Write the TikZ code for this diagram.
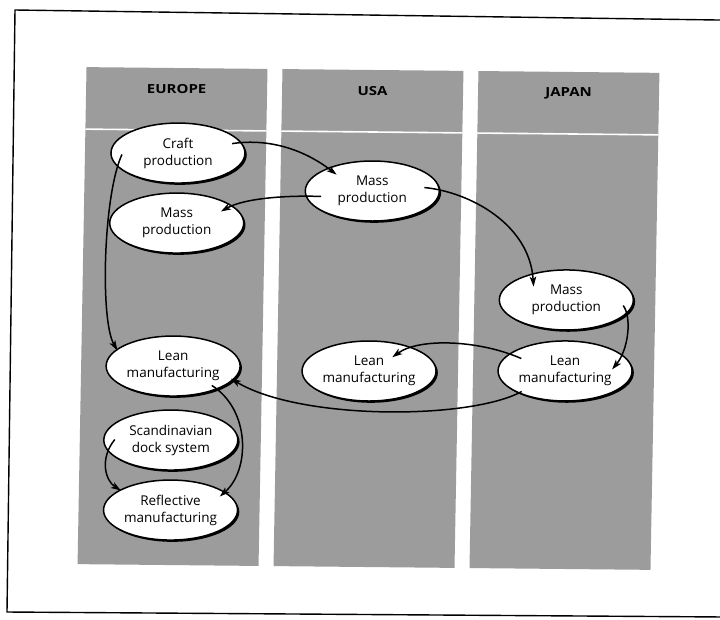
\documentclass[tikz,border=0pt]{standalone}
\usepackage{fontspec}
\setmainfont{Open Sans}
\usetikzlibrary{shapes.geometric,arrows.meta,shadows,calc}
\definecolor{colgray}{gray}{0.61}
\begin{document}
\begin{tikzpicture}[x=1pt,y=-1pt,
  col/.style={fill=colgray, draw=none},
  sep/.style={draw=white, line width=1.6pt},
  stage/.style={ellipse, draw=black, line width=1.5pt, fill=white,
    minimum width=134pt, minimum height=60pt, inner sep=0pt, align=center,
    font=\fontsize{13.5}{17}\selectfont,
    drop shadow={shadow xshift=1.8pt, shadow yshift=-1.8pt, fill=black, opacity=1}},
  head/.style={font=\bfseries\fontsize{12.5}{14}\selectfont},
  flow/.style={line width=1.5pt, -{Stealth[length=10pt,width=6.5pt,inset=2.5pt]}}]
\useasboundingbox (0,0) rectangle (720,619);
\fill[white] (0,0) rectangle (720,619);
\draw[line width=1.4pt] (725,20.1) -- (15,10) -- (7,612) -- (725,617);
\begin{scope}[shift={(370,318)}, xslant=0.018, yslant=-0.010, shift={(-370,-318)}]
  % columns
  \fill[col] (82,70) rectangle (263,567);
  \fill[col] (278,70) rectangle (459,567);
  \fill[col] (474,70) rectangle (655,567);
  \draw[sep] (82,132) -- (263,132);
  \draw[sep] (278,132) -- (459,132);
  \draw[sep] (474,132) -- (655,132);
  \node[head] (heu) at (172.5,91) {\scalebox{1.2}[1]{EUROPE}};
  \node[head] (husa) at (368.5,91) {\scalebox{1.2}[1]{USA}};
  \node[head] (hjp) at (564.5,91) {\scalebox{1.2}[1]{JAPAN}};
  % stages
  \node[stage] (craft) at (175,155) {Craft\\production};
  \node[stage] (eumass) at (175,225) {Mass\\production};
  \node[stage] (usamass) at (370,191) {Mass\\production};
  \node[stage] (jpmass) at (566,298) {Mass\\production};
  \node[stage] (jplean) at (566,369) {Lean\\manufacturing};
  \node[stage] (usalean) at (370,371) {Lean\\manufacturing};
  \node[stage] (eulean) at (174,368) {Lean\\manufacturing};
  \node[stage] (scand) at (173,442) {Scandinavian\\dock system};
  \node[stage] (refl) at (174,512) {Reflective\\manufacturing};
  % flows
  \draw[flow] ($(craft)+(54,-10)$) .. controls (267,139) and (302,151) .. ($(usamass)+(-36,-16)$);
  \draw[flow] ($(usamass)+(-51,6)$) .. controls (288,196) and (243,199) .. ($(eumass)+(44,-12)$);
  \draw[flow] ($(usamass)+(52,-4)$) .. controls (468,191) and (528,223) .. ($(jpmass)+(-33,-13)$);
  \draw[flow] ($(jpmass)+(57,5)$) .. controls (632,315) and (629,347) .. ($(jplean)+(47,-2)$);
  \draw[flow] ($(jplean)+(-44,-12)$) .. controls (480,339) and (420,337) .. ($(usalean)+(23,-14)$);
  \draw[flow] ($(jplean)+(-43,21)$) .. controls (471,419) and (302,421) .. ($(eulean)+(58,12)$);
  \draw[flow] ($(craft)+(-56,2)$) .. controls (101,198) and (100,323) .. ($(eulean)+(-56,-15)$);
  \draw[flow] ($(eulean)+(39,19)$) .. controls (252,411) and (253,471) .. ($(refl)+(49,-14)$);
  \draw[flow] ($(scand)+(-56,0)$) .. controls (102,461) and (108,483) .. ($(refl)+(-50,-19)$);
\end{scope}
\end{tikzpicture}
\end{document}
